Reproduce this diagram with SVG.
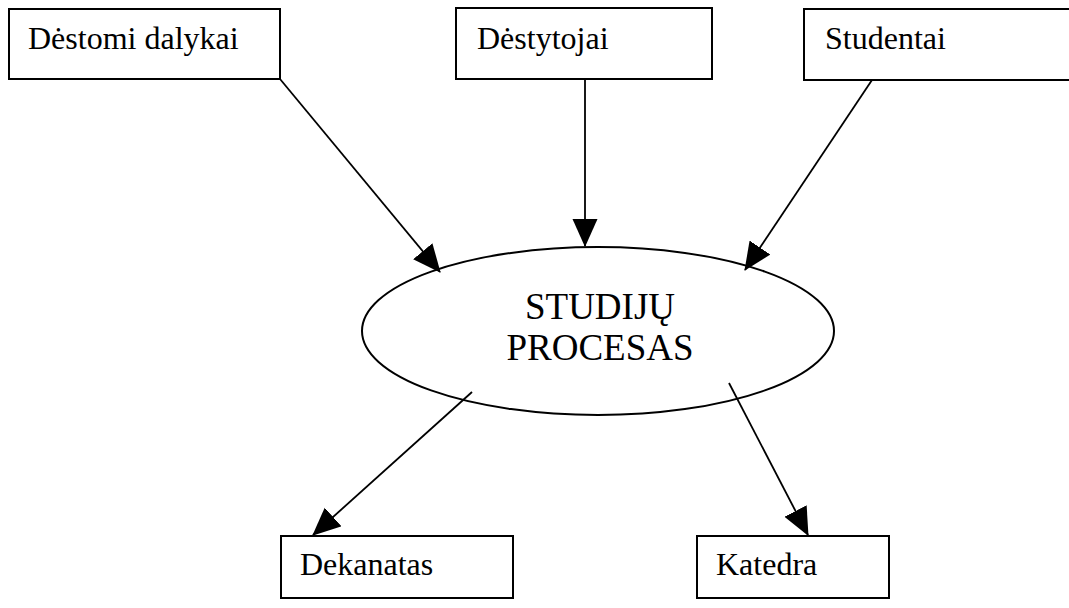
<svg xmlns="http://www.w3.org/2000/svg" width="1069" height="608" viewBox="0 0 1069 608">
  <style>
    .box { fill: #ffffff; stroke: #000000; stroke-width: 2; }
    .proc { fill: #ffffff; stroke: #000000; stroke-width: 2; }
    text { font-family: 'Liberation Serif', 'Times New Roman', serif; fill: #000000; }
    .label { font-size: 32px; }
    .plabel { font-size: 37px; text-anchor: middle; }
    .flow { stroke: #000000; stroke-width: 1.8; fill: none; }
  </style>
  <defs>
    <!-- filled triangular arrowhead, tip at the end of each flow line -->
    <marker id="arrow" markerUnits="userSpaceOnUse" markerWidth="32" markerHeight="28" refX="27" refY="12.5" orient="auto">
      <path d="M0,0 L28,12.5 L0,25 Z" fill="#000000"/>
    </marker>
  </defs>
  <rect width="1069" height="608" fill="#ffffff"/>

  <g id="node-destomi-dalykai">
    <rect class="box" x="9" y="9" width="271" height="70"/>
    <text class="label" x="28" y="49">Dėstomi dalykai</text>
  </g>
  <g id="node-destytojai">
    <rect class="box" x="456" y="8" width="256" height="71"/>
    <text class="label" x="477" y="49">Dėstytojai</text>
  </g>
  <g id="node-studentai">
    <rect class="box" x="804" y="9" width="270" height="71"/>
    <text class="label" x="825" y="49">Studentai</text>
  </g>
  <g id="node-studiju-procesas">
    <ellipse class="proc" cx="598" cy="331" rx="236" ry="84"/>
    <text class="plabel" x="600" y="319">STUDIJŲ</text>
    <text class="plabel" x="600" y="360">PROCESAS</text>
  </g>
  <g id="node-dekanatas">
    <rect class="box" x="281" y="536" width="232" height="62"/>
    <text class="label" x="300" y="575">Dekanatas</text>
  </g>
  <g id="node-katedra">
    <rect class="box" x="697" y="536" width="192" height="62"/>
    <text class="label" x="716" y="575">Katedra</text>
  </g>

  <g id="connectors">
    <line class="flow" x1="280" y1="79" x2="440" y2="272" marker-end="url(#arrow)"/>
    <line class="flow" x1="585" y1="79" x2="585" y2="246" marker-end="url(#arrow)"/>
    <line class="flow" x1="872" y1="80" x2="745" y2="270" marker-end="url(#arrow)"/>
    <line class="flow" x1="472" y1="392" x2="313" y2="535" marker-end="url(#arrow)"/>
    <line class="flow" x1="729" y1="383" x2="808" y2="535" marker-end="url(#arrow)"/>
  </g>
</svg>
